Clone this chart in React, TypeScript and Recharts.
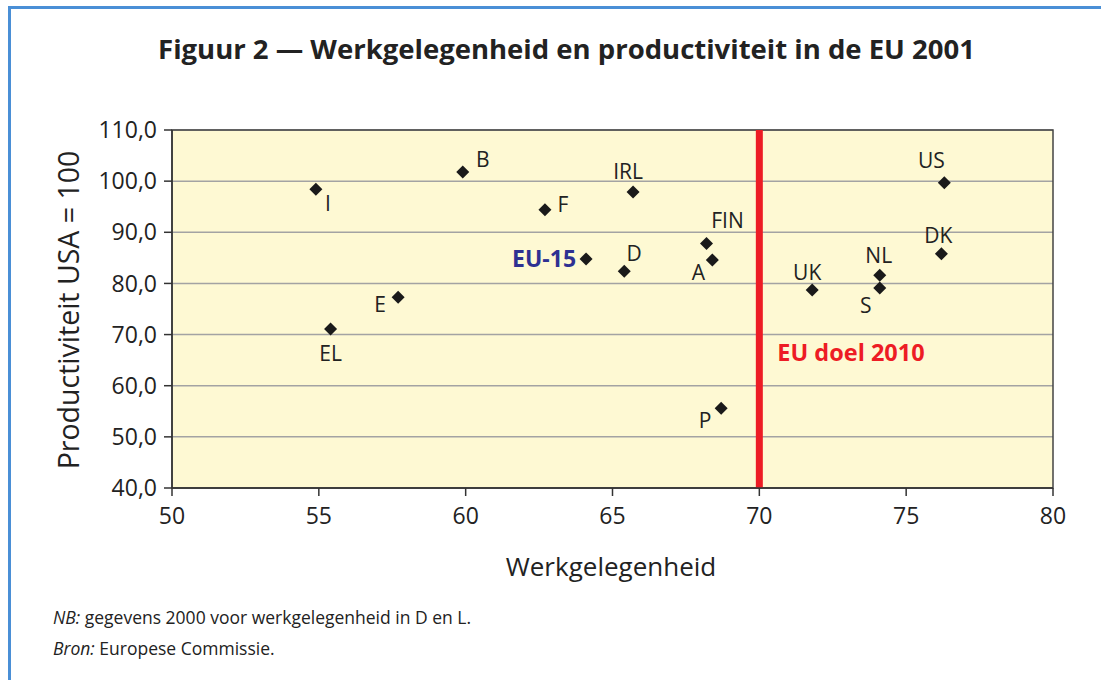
import React from "react";
import {
  ScatterChart,
  Scatter,
  XAxis,
  YAxis,
  CartesianGrid,
  ReferenceLine,
  ReferenceArea,
} from "recharts";

// data
const countries = ["I", "B", "F", "IRL", "FIN", "A", "D", "EU-15", "E", "EL", "P", "UK", "NL", "S", "DK", "US"];
const werkgelegenheid = [54.9, 59.9, 62.7, 65.7, 68.2, 68.4, 65.4, 64.1, 57.7, 55.4, 68.7, 71.8, 74.1, 74.1, 76.2, 76.3];
const productiviteit = [98.4, 101.8, 94.4, 97.9, 87.8, 84.6, 82.4, 84.8, 77.3, 71.1, 55.6, 78.7, 81.6, 79.1, 85.8, 99.7];

const xTicks = [50, 55, 60, 65, 70, 75, 80];
const yTicks = [40, 50, 60, 70, 80, 90, 100, 110];

// label placement next to each marker (dx, dy of the label centre)
const labelOffset: Record<string, [number, number]> = {
  I: [12, 14],
  B: [20, -12],
  F: [18, -5],
  IRL: [-5, -20],
  FIN: [21, -23],
  A: [-14, 13],
  D: [10, -18],
  "EU-15": [-42, 0],
  E: [-18, 7],
  EL: [0, 24],
  P: [-16, 12],
  UK: [-5, -18],
  NL: [-1, -20],
  S: [-14, 17],
  DK: [-3, -18],
  US: [-13, -22],
};

const data = countries.map((name, i) => ({
  name,
  x: werkgelegenheid[i],
  y: productiviteit[i],
}));

const FONT = "'Open Sans', 'Noto Sans', sans-serif";

const Marker = (props: any) => {
  const { cx, cy, payload } = props;
  const [dx, dy] = labelOffset[payload.name] || [10, -10];
  const eu = payload.name === "EU-15";
  const r = 6.5;
  return (
    <g>
      <polygon
        points={`${cx},${cy - r} ${cx + r},${cy} ${cx},${cy + r} ${cx - r},${cy}`}
        fill="#1a1a1a"
      />
      <text
        x={cx + dx}
        y={cy + dy}
        dy="0.36em"
        textAnchor="middle"
        fontFamily={FONT}
        fontSize={eu ? 23 : 21}
        fontWeight={eu ? 700 : 400}
        fill={eu ? "#2E3192" : "#222"}
      >
        {payload.name}
      </text>
    </g>
  );
};

const GoalLabel = (props: any) => {
  const { viewBox } = props;
  return (
    <text
      x={viewBox.x + 18}
      y={viewBox.y + 223}
      dy="0.36em"
      fontFamily={FONT}
      fontSize={23.5}
      fontWeight={700}
      fill="#ED1C24"
    >
      EU doel 2010
    </text>
  );
};

export default function App() {
  return (
    <div
      style={{
        position: "absolute",
        left: 0,
        top: 0,
        width: 1101,
        height: 680,
        background: "#fff",
        fontFamily: FONT,
        color: "#222",
        overflow: "hidden",
      }}
    >
      {/* blue frame */}
      <div style={{ position: "absolute", left: 8, top: 6, right: 0, height: 3, background: "#4A8FD6" }} />
      <div style={{ position: "absolute", left: 8, top: 6, bottom: 0, width: 3, background: "#4A8FD6" }} />

      <div
        style={{
          position: "absolute",
          left: 0,
          width: 1133,
          top: 30,
          textAlign: "center",
          fontSize: 27.5,
          fontWeight: 700,
          color: "#222",
        }}
      >
        Figuur 2 — Werkgelegenheid en productiviteit in de EU 2001
      </div>

      <div style={{ position: "absolute", left: 0, top: 0 }}>
        <ScatterChart
          width={1101}
          height={600}
          margin={{ top: 130, right: 48, bottom: 62, left: 92 }}
        >
          <CartesianGrid
            vertical={false}
            stroke="#A3A3A3"
            strokeWidth={1.5}
            fill="#FEF9D3"
            fillOpacity={1}
          />
          <ReferenceArea
            x1={50}
            x2={80}
            y1={40}
            y2={110}
            fill="none"
            stroke="#444"
            strokeWidth={1.5}
            ifOverflow="visible"
          />
          <XAxis
            type="number"
            dataKey="x"
            domain={[50, 80]}
            ticks={xTicks}
            height={50}
            tickSize={8}
            tickMargin={12}
            stroke="#333"
            strokeWidth={1.5}
            tick={{ fill: "#222", fontSize: 23, fontFamily: FONT }}
            allowDataOverflow
          />
          <YAxis
            type="number"
            dataKey="y"
            domain={[40, 110]}
            ticks={yTicks}
            width={80}
            tickSize={8}
            tickMargin={7}
            stroke="#333"
            strokeWidth={1.5}
            tickFormatter={(v: number) => v.toFixed(1).replace(".", ",")}
            tick={{ fill: "#222", fontSize: 23, fontFamily: FONT }}
            allowDataOverflow
          />
          <ReferenceLine
            x={70}
            stroke="#ED1C24"
            strokeWidth={7}
            label={<GoalLabel />}
          />
          <Scatter data={data} shape={<Marker />} isAnimationActive={false} />
        </ScatterChart>
      </div>

      <div
        style={{
          position: "absolute",
          left: 68 - 200,
          top: 310 - 20,
          width: 400,
          height: 40,
          lineHeight: "40px",
          textAlign: "center",
          fontSize: 28.5,
          transform: "rotate(-90deg)",
        }}
      >
        Productiviteit USA = 100
      </div>
      <div
        style={{
          position: "absolute",
          left: 411,
          width: 400,
          top: 548,
          textAlign: "center",
          fontSize: 26,
        }}
      >
        Werkgelegenheid
      </div>

      <div style={{ position: "absolute", left: 53, top: 602, fontSize: 17.5, lineHeight: "31px" }}>
        <div>
          <i>NB:</i> gegevens 2000 voor werkgelegenheid in D en L.
        </div>
        <div>
          <i>Bron:</i> Europese Commissie.
        </div>
      </div>
    </div>
  );
}
